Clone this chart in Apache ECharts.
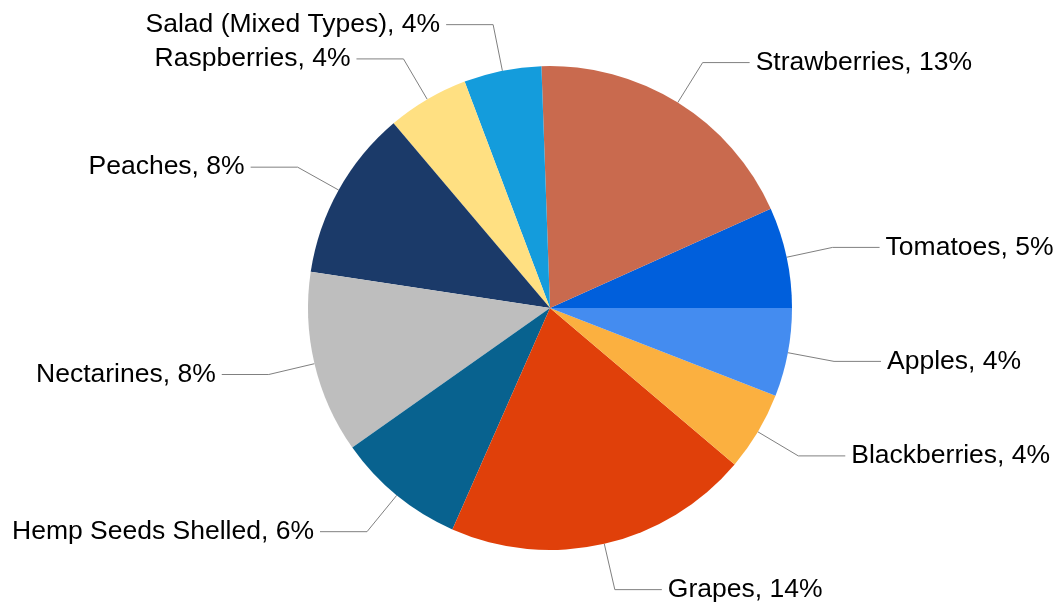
<!DOCTYPE html>
<html>
<head>
<meta charset="utf-8">
<script src="https://cdn.jsdelivr.net/npm/echarts@6/dist/echarts.min.js"></script>
<style>html,body{margin:0;padding:0;background:#fff;}#c{width:1064px;height:605px;}</style>
</head>
<body>
<div id="c"></div>
<script>
const categories = ["Tomatoes","Strawberries","Salad (Mixed Types)","Raspberries","Peaches","Nectarines","Hemp Seeds Shelled","Grapes","Blackberries","Apples"];
const values = [4.64, 13.0, 3.57, 3.76, 7.88, 8.4, 5.94, 14.09, 3.64, 4.08];
const colors = ["#005FDC","#C96A4E","#149CDC","#FFE082","#1B3A69","#BEBEBE","#08628F","#E0400A","#FBB040","#448CF0"];

const chart = echarts.init(document.getElementById('c'), null, {renderer:'canvas'});
chart.setOption({
  animation: false,
  backgroundColor: '#ffffff',
  series: [{
    type: 'pie',
    center: [550, 308],
    radius: [0, 242],
    startAngle: 0,
    clockwise: false,
    avoidLabelOverlap: false,
    data: categories.map((n, i) => ({name: n, value: values[i], itemStyle: {color: colors[i]}})),
    itemStyle: {borderWidth: 0},
    label: {
      show: true,
      position: 'outside',
      formatter: p => p.name + ', ' + Math.round(p.value) + '%',
      fontFamily: 'Liberation Sans, Arial, sans-serif',
      fontSize: 26.5,
      color: '#000',
      distanceToLabelLine: 6
    },
    labelLine: {
      show: true,
      length: 47,
      length2: 47,
      lineStyle: {color: '#808080', width: 1}
    },
    emphasis: {disabled: true}
  }]
});
</script>
</body>
</html>
